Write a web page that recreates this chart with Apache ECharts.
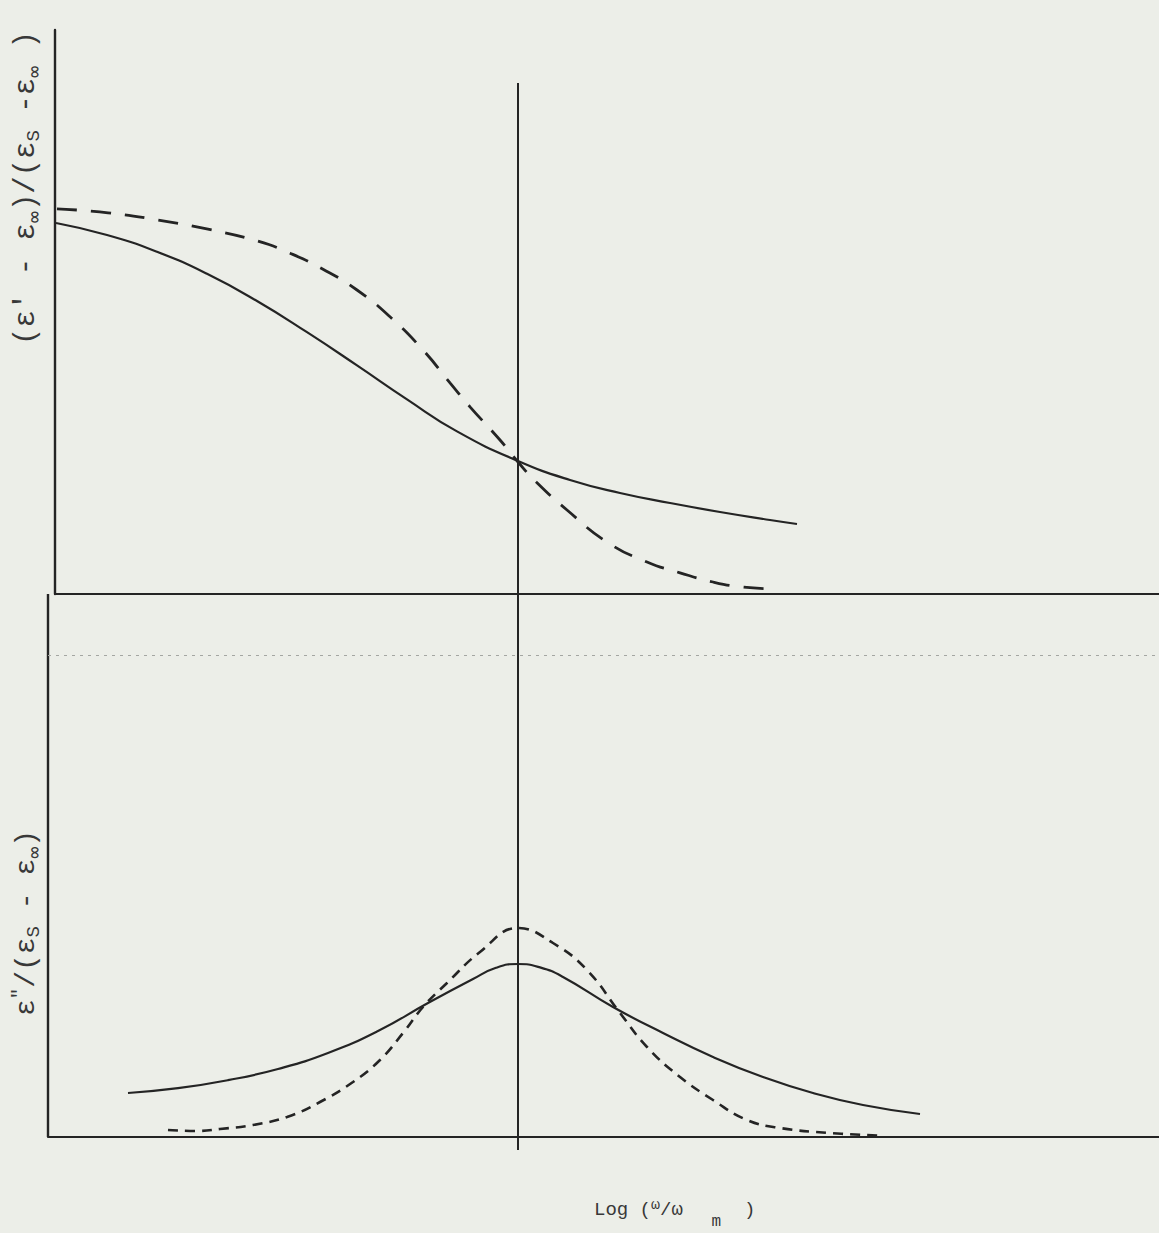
<!DOCTYPE html>
<html>
<head>
<meta charset="utf-8">
<script src="https://cdn.jsdelivr.net/npm/echarts@6/dist/echarts.min.js"></script>
<style>
html,body{margin:0;padding:0;background:#eceee8;}
#chart{width:1159px;height:1233px;}
</style>
</head>
<body>
<div id="chart"></div>
<script>
// x: Log(omega/omega_m), arbitrary units (0 = omega_m)
const xTopSolid = [-4.62,-4.11,-3.61,-3.11,-2.61,-2.11,-1.61,-1.11,-0.61,0,0.52,1.02,1.52,2.02,2.52,2.79];
const yTopSolid = [0.9275,0.8975,0.8555,0.8005,0.7325,0.6545,0.5715,0.4865,0.4065,0.3325,0.285,0.2525,0.2275,0.205,0.185,0.175];

const xTopDashed = [-4.61,-4.1,-3.6,-3.1,-2.6,-2.28,-1.95,-1.61,-1.28,-0.95,-0.68,-0.48,-0.18,0,0.19,0.49,0.89,1.29,1.62,1.95,2.22,2.52];
const yTopDashed = [0.963,0.953,0.935,0.912,0.882,0.852,0.812,0.76,0.693,0.61,0.528,0.468,0.385,0.33,0.278,0.21,0.13,0.08,0.053,0.03,0.018,0.013];

const xBotSolid = [-3.9,-3.4,-2.9,-2.4,-1.9,-1.4,-0.9,-0.45,-0.22,0,0.22,0.45,0.95,1.45,1.95,2.45,2.95,3.45,4.02];
const yBotSolid = [0.11,0.122,0.142,0.17,0.21,0.265,0.335,0.395,0.423,0.4325,0.424,0.40,0.325,0.26,0.2,0.15,0.11,0.08,0.0575];

const xBotDashed = [-3.5,-3.21,-2.98,-2.65,-2.31,-1.98,-1.65,-1.38,-1.15,-0.95,-0.71,-0.38,0,0.35,0.69,1.02,1.29,1.62,1.95,2.29,2.62,3.12,3.65];
const yBotDashed = [0.0175,0.015,0.02,0.03,0.05,0.0875,0.1375,0.1925,0.26,0.325,0.385,0.4625,0.5225,0.485,0.4175,0.31,0.225,0.15,0.0925,0.0425,0.0225,0.01,0.003];

// axis extents
const topX = {min:-4.63, max:6.41};
const topY = {min:0, max:1.41};
const botX = {min:-4.70, max:6.41};
const botY = {min:-0.0325, max:1.3575};
const centerLineTop = 1.2775;   // top end of the vertical line at omega = omega_m
const faintLineY = 1.205;       // faint typed dotted line

const labelTop = "(ε' - ε{inf|∞})/(ε{sub|S} -ε{inf|∞} )";
const labelBot = "ε{sup|″}/(ε{sub|S} - ε{inf|∞})";
const labelX = "Log ({sup|ω}/ω{sub|   m}  )";

const zip = (xs, ys) => xs.map((x, i) => [x, ys[i]]);
const ink = '#242424';
const txt = '#383838';
const font = 'Liberation Mono, DejaVu Sans Mono, monospace';

const chart = echarts.init(document.getElementById('chart'), null, {renderer: 'svg'});

const hiddenAxisBits = {
  axisTick: {show: false},
  axisLabel: {show: false},
  splitLine: {show: false}
};

const yRich = {
  sub: {font: '19px ' + font, fill: txt, padding: [16, 0, 0, 0]},
  inf: {font: '20px DejaVu Sans Mono, monospace', fill: txt, padding: [16, 0, 0, 0]},
  sup: {font: '19px ' + font, fill: txt, padding: [0, 0, 14, 0]}
};

const option = {
  backgroundColor: '#eceee8',
  animation: false,
  grid: [
    {left: 55, right: 0, top: 30, height: 564},
    {left: 48, right: 0, top: 594, height: 556}
  ],
  xAxis: [
    Object.assign({type: 'value', gridIndex: 0, min: topX.min, max: topX.max,
      axisLine: {show: true, onZero: true, lineStyle: {color: ink, width: 2.2}}}, hiddenAxisBits),
    Object.assign({type: 'value', gridIndex: 1, min: botX.min, max: botX.max,
      axisLine: {show: true, onZero: true, lineStyle: {color: ink, width: 2.2}}}, hiddenAxisBits)
  ],
  yAxis: [
    Object.assign({type: 'value', gridIndex: 0, min: topY.min, max: topY.max,
      axisLine: {show: true, onZero: false, lineStyle: {color: ink, width: 2.4}}}, hiddenAxisBits),
    Object.assign({type: 'value', gridIndex: 1, min: botY.min, max: botY.max,
      axisLine: {show: false}}, hiddenAxisBits)
  ],
  series: [
    {
      type: 'line', xAxisIndex: 0, yAxisIndex: 0,
      data: zip(xTopSolid, yTopSolid),
      smooth: 0.5, showSymbol: false, silent: true,
      lineStyle: {color: ink, width: 2.2},
      markLine: {
        silent: true, symbol: ['none', 'none'], label: {show: false},
        lineStyle: {color: ink, width: 2, type: 'solid'},
        data: [[{coord: [0, centerLineTop]}, {coord: [0, topY.min]}]]
      }
    },
    {
      type: 'line', xAxisIndex: 0, yAxisIndex: 0,
      data: zip(xTopDashed, yTopDashed),
      smooth: 0.5, showSymbol: false, silent: true,
      lineStyle: {color: ink, width: 2.8, type: [20, 14]}
    },
    {
      type: 'line', xAxisIndex: 1, yAxisIndex: 1,
      data: zip(xBotSolid, yBotSolid),
      smooth: 0.5, showSymbol: false, silent: true,
      lineStyle: {color: ink, width: 2.2},
      markLine: {
        silent: true, symbol: ['none', 'none'], label: {show: false},
        lineStyle: {color: ink, width: 2, type: 'solid'},
        data: [
          [{coord: [0, botY.min]}, {coord: [0, botY.max]}],
          [{coord: [botX.min, 0], lineStyle: {width: 2.4}}, {coord: [botX.min, botY.max]}],
          [{coord: [botX.min, faintLineY], lineStyle: {color: '#a4a6a2', width: 1.2, type: [3, 5]}},
           {coord: [botX.max, faintLineY]}]
        ]
      }
    },
    {
      type: 'line', xAxisIndex: 1, yAxisIndex: 1,
      data: zip(xBotDashed, yBotDashed),
      smooth: 0.45, showSymbol: false, silent: true,
      lineStyle: {color: ink, width: 2.6, type: [10, 7]}
    }
  ],
  graphic: [
    {
      type: 'text', x: 26, y: 188, rotation: Math.PI / 2,
      style: {
        text: labelTop, align: 'center', verticalAlign: 'middle',
        font: '29px ' + font, fill: txt, rich: yRich
      }
    },
    {
      type: 'text', x: 26, y: 923, rotation: Math.PI / 2,
      style: {
        text: labelBot, align: 'center', verticalAlign: 'middle',
        font: '28px ' + font, fill: txt, rich: yRich
      }
    },
    {
      type: 'text', x: 594, y: 1210,
      style: {
        text: labelX, align: 'left', verticalAlign: 'middle',
        font: '19px ' + font, fill: txt,
        rich: {
          sub: {font: '16px ' + font, fill: txt, padding: [24, 0, 0, 0]},
          sup: {font: '15px ' + font, fill: txt, padding: [0, 0, 10, 0]}
        }
      }
    }
  ]
};
chart.setOption(option);
</script>
</body>
</html>
